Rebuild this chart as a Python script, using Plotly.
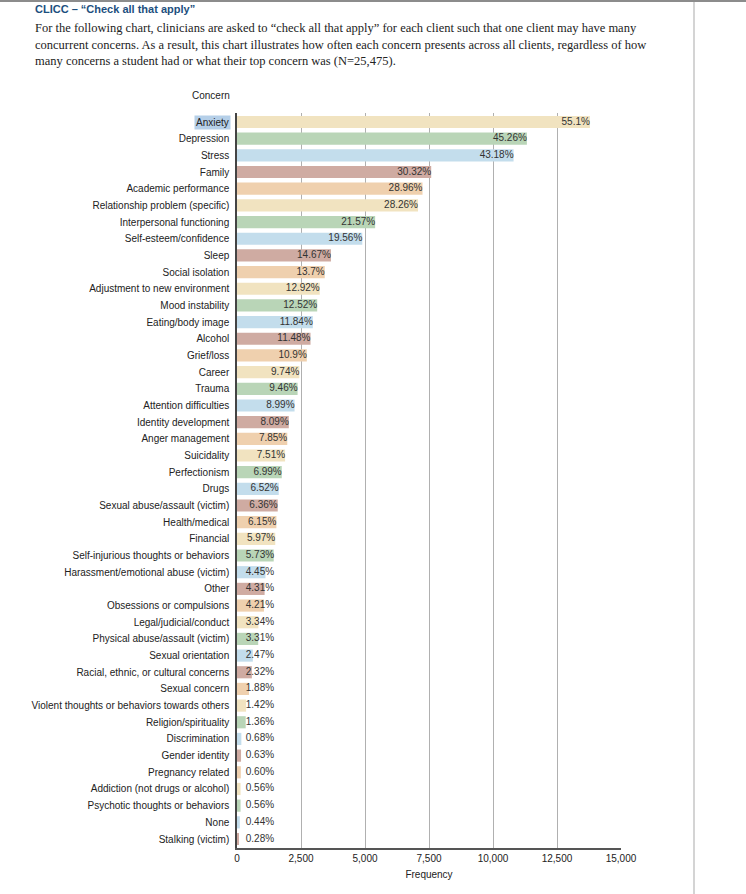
import plotly.graph_objs as go

# concerns, top to bottom as in the chart
concerns = [
    "Anxiety", "Depression", "Stress", "Family", "Academic performance",
    "Relationship problem (specific)", "Interpersonal functioning",
    "Self-esteem/confidence", "Sleep", "Social isolation",
    "Adjustment to new environment", "Mood instability", "Eating/body image",
    "Alcohol", "Grief/loss", "Career", "Trauma", "Attention difficulties",
    "Identity development", "Anger management", "Suicidality", "Perfectionism",
    "Drugs", "Sexual abuse/assault (victim)", "Health/medical", "Financial",
    "Self-injurious thoughts or behaviors", "Harassment/emotional abuse (victim)",
    "Other", "Obsessions or compulsions", "Legal/judicial/conduct",
    "Physical abuse/assault (victim)", "Sexual orientation",
    "Racial, ethnic, or cultural concerns", "Sexual concern",
    "Violent thoughts or behaviors towards others", "Religion/spirituality",
    "Discrimination", "Gender identity", "Pregnancy related",
    "Addiction (not drugs or alcohol)", "Psychotic thoughts or behaviors",
    "None", "Stalking (victim)",
]

# frequencies
frequency = [
    13786, 11324, 10804, 7586, 7246, 7071, 5397, 4894, 3670, 3428,
    3233, 3133, 2962, 2872, 2727, 2437, 2367, 2249, 2024, 1964,
    1879, 1749, 1631, 1591, 1539, 1494, 1434, 1113, 1078, 1053,
    836, 828, 618, 580, 470, 355, 340, 170, 158, 150,
    140, 140, 110, 70,
]

pct_labels = [
    "55.1%", "45.26%", "43.18%", "30.32%", "28.96%", "28.26%", "21.57%",
    "19.56%", "14.67%", "13.7%", "12.92%", "12.52%", "11.84%", "11.48%",
    "10.9%", "9.74%", "9.46%", "8.99%", "8.09%", "7.85%", "7.51%", "6.99%",
    "6.52%", "6.36%", "6.15%", "5.97%", "5.73%", "4.45%", "4.31%", "4.21%",
    "3.34%", "3.31%", "2.47%", "2.32%", "1.88%", "1.42%", "1.36%", "0.68%",
    "0.63%", "0.60%", "0.56%", "0.56%", "0.44%", "0.28%",
]

palette = ["#f1e3c0", "#b9d5b7", "#c3ddec", "#cfaba2", "#efd0ae"]
bar_colors = [palette[i % len(palette)] for i in range(len(concerns))]

sans = "Liberation Sans Narrow, Arial Narrow, Liberation Sans, Arial, sans-serif"
serif = "Liberation Serif, Times New Roman, serif"

fig = go.Figure()
fig.add_trace(go.Bar(
    x=frequency,
    y=concerns,
    orientation="h",
    marker=dict(color=bar_colors, line=dict(width=0)),
    hoverinfo="x+y",
))
# percentage labels, right-aligned at the bar end (or a minimum spot for short bars)
fig.add_trace(go.Scatter(
    x=[max(f, 1450) for f in frequency],
    y=concerns,
    mode="text",
    text=pct_labels,
    textposition="middle left",
    textfont=dict(family=sans, size=10, color="#333333"),
    hoverinfo="skip",
))

fig.update_layout(
    width=746,
    height=894,
    paper_bgcolor="white",
    plot_bgcolor="white",
    showlegend=False,
    bargap=0.27,
    margin=dict(l=237, r=125, t=113, b=46),
    font=dict(family=sans, size=10, color="#222222"),
)
fig.update_xaxes(
    range=[0, 15000],
    tickvals=[0, 2500, 5000, 7500, 10000, 12500, 15000],
    ticktext=["0", "2,500", "5,000", "7,500", "10,000", "12,500", "15,000"],
    showgrid=True,
    gridcolor="#b0b0b0",
    gridwidth=1,
    zeroline=False,
    showline=True,
    linecolor="#555555",
    linewidth=1.5,
    ticks="",
    tickfont=dict(size=10, color="#222222"),
    title=dict(text="Frequency", font=dict(size=10, color="#222222"), standoff=8),
    fixedrange=True,
)
fig.update_yaxes(
    range=[len(concerns) - 0.46, -0.54],
    showline=True,
    linecolor="#444444",
    linewidth=1.5,
    showgrid=False,
    ticks="",
    ticklabelstandoff=4,
    tickfont=dict(size=10, color="#222222"),
    fixedrange=True,
)

# y-axis title sits above the labels
fig.add_annotation(
    text="Concern", xref="paper", yref="paper",
    x=-0.068, y=1.024, xanchor="center", yanchor="middle",
    showarrow=False, font=dict(family=sans, size=10, color="#222222"),
)
# the selected "Anxiety" label
fig.add_annotation(
    text=concerns[0], xref="paper", yref="y",
    x=-0.0155, y=concerns[0], xanchor="right", yanchor="middle",
    showarrow=False, bgcolor="#b5cfe8", borderpad=1,
    font=dict(family=sans, size=10, color="#222222"),
)

# page header
fig.add_annotation(
    text="<b>CLICC – “Check all that apply”</b>", xref="paper", yref="paper",
    x=-0.53, y=(848 - 9) / 735, xanchor="left", yanchor="middle",
    showarrow=False, font=dict(family=sans, size=11, color="#1d4f7e"),
)
para = [
    "For the following chart, clinicians are asked to “check all that apply” for each client such that one client may have many",
    "concurrent concerns. As a result, this chart illustrates how often each concern presents across all clients, regardless of how",
    "many concerns a student had or what their top concern was (N=25,475).",
]
for i, line in enumerate(para):
    fig.add_annotation(
        text=line, xref="paper", yref="paper",
        x=-0.53, y=(848 - 28 - 16.7 * i) / 735, xanchor="left", yanchor="middle",
        showarrow=False, font=dict(family=serif, size=12.5, color="#222222"),
    )

# page frame lines
fig.add_shape(type="line", xref="paper", yref="paper",
              x0=-0.62, x1=1.33, y0=(848 - 1) / 735, y1=(848 - 1) / 735,
              line=dict(color="#8c8c8c", width=2))
fig.add_shape(type="line", xref="paper", yref="paper",
              x0=(694 - 237) / 384, x1=(694 - 237) / 384, y0=-0.07, y1=(848 - 2) / 735,
              line=dict(color="#d4d4d4", width=2))

fig.write_html("out.html", config={"displayModeBar": False},
               post_script="document.body.style.margin = '0px';")
